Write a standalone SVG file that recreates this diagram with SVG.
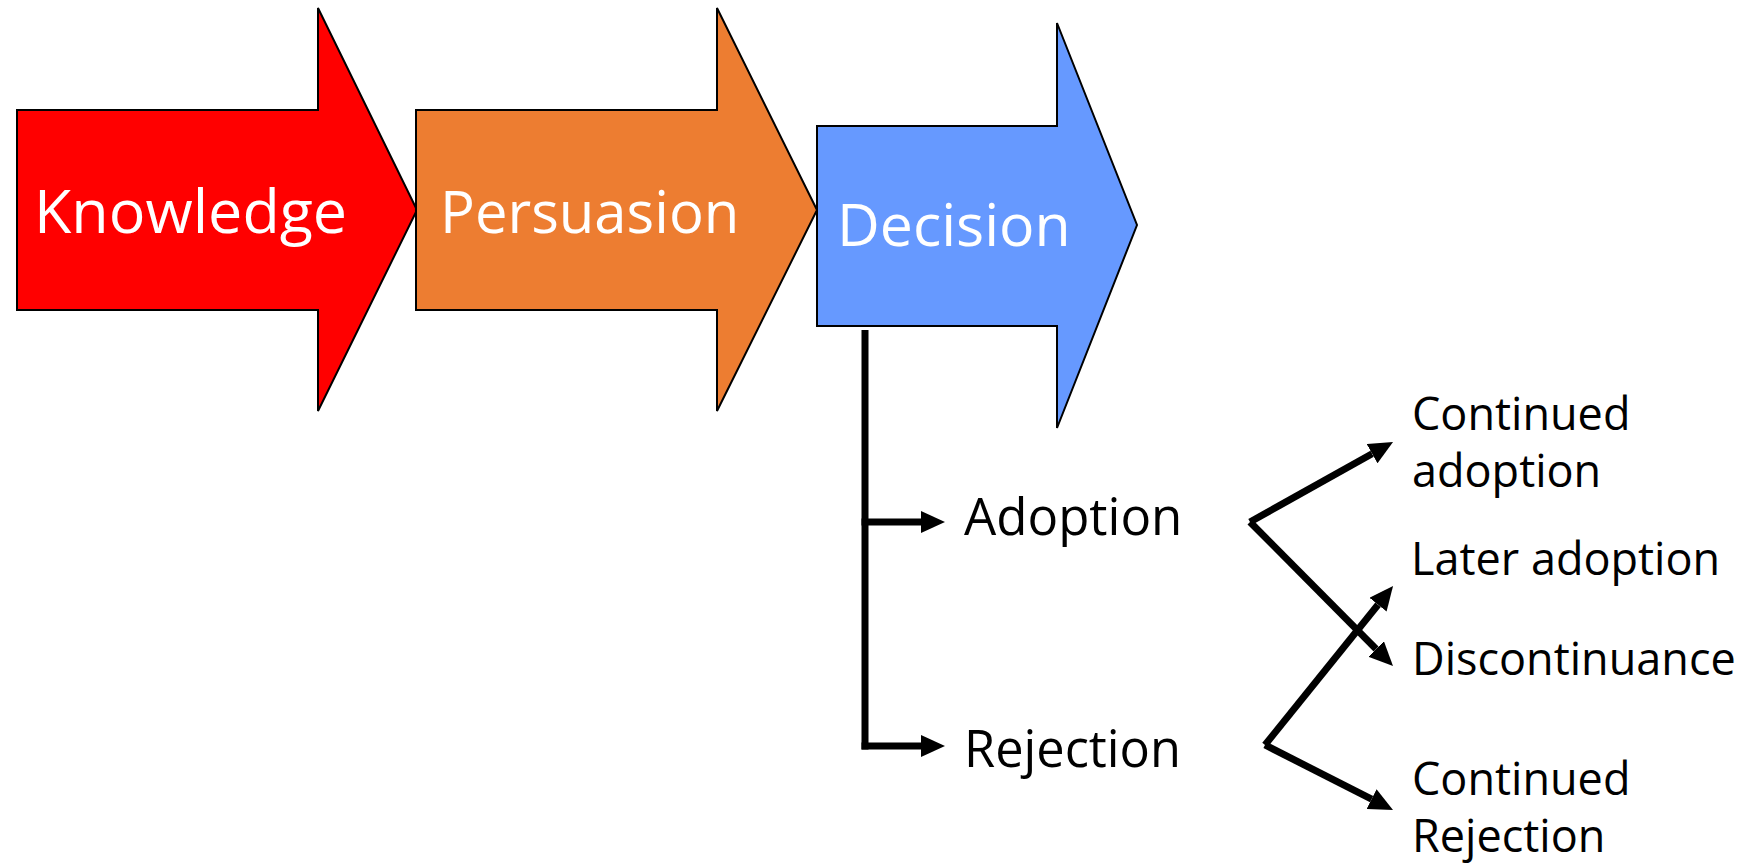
<svg xmlns="http://www.w3.org/2000/svg" width="1745" height="864" viewBox="0 0 1745 864">
<style>
.stage{stroke:#000;stroke-width:2;stroke-linejoin:miter}
.big{font-family:"Open Sans","Noto Sans","Liberation Sans",sans-serif;fill:#fff}
.lbl{font-family:"Open Sans","Noto Sans","Liberation Sans",sans-serif;fill:#000}
.conn{stroke:#000;stroke-width:7;fill:none}
</style>
<defs>
<marker id="ah" markerUnits="userSpaceOnUse" viewBox="0 0 24 22" refX="0" refY="11" markerWidth="24" markerHeight="22" orient="auto">
<path d="M0,0 L24,11 L0,22 Z" fill="#000"/>
</marker>
</defs>
<rect width="1745" height="864" fill="#fff"/>
<g id="knowledge">
<path class="stage" fill="#FF0000" d="M17,110 H318 V8 L417,210 L318,411 V310 H17 Z"/>
<text class="big" x="34" y="233" font-size="61">Knowledge</text>
</g>
<g id="persuasion">
<path class="stage" fill="#ED7D31" d="M416,110 H717 V8 L817,210 L717,411 V310 H416 Z"/>
<text class="big" x="440" y="233" font-size="58">Persuasion</text>
</g>
<g id="decision">
<path class="stage" fill="#6699FF" d="M817,126 H1057 V23 L1137,225 L1057,428 V326 H817 Z"/>
<text class="big" x="837" y="246" font-size="59">Decision</text>
</g>
<g id="connectors">
<line class="conn" x1="865" y1="330" x2="865" y2="749.5"/>
<line class="conn" x1="861.5" y1="522" x2="921" y2="522" marker-end="url(#ah)"/>
<line class="conn" x1="861.5" y1="746" x2="921" y2="746" marker-end="url(#ah)"/>
<line class="conn" x1="1250" y1="522" x2="1372.1" y2="453.7" marker-end="url(#ah)"/>
<line class="conn" x1="1250" y1="522" x2="1376.1" y2="649" marker-end="url(#ah)"/>
<line class="conn" x1="1265" y1="745" x2="1378" y2="604.7" marker-end="url(#ah)"/>
<line class="conn" x1="1265" y1="745" x2="1371.6" y2="799.1" marker-end="url(#ah)"/>
</g>
<g id="adoption"><text class="lbl" x="964" y="535" font-size="51">Adoption</text></g>
<g id="rejection"><text class="lbl" x="964" y="767" font-size="50.5">Rejection</text></g>
<g id="continued-adoption"><text class="lbl" font-size="45"><tspan x="1412" y="430">Continued</tspan><tspan x="1412" y="487">adoption</tspan></text></g>
<g id="later-adoption"><text class="lbl" x="1411" y="575" font-size="45">Later adoption</text></g>
<g id="discontinuance"><text class="lbl" x="1412" y="675" font-size="45">Discontinuance</text></g>
<g id="continued-rejection"><text class="lbl" font-size="45"><tspan x="1412" y="795">Continued</tspan><tspan x="1412" y="852">Rejection</tspan></text></g>
</svg>
